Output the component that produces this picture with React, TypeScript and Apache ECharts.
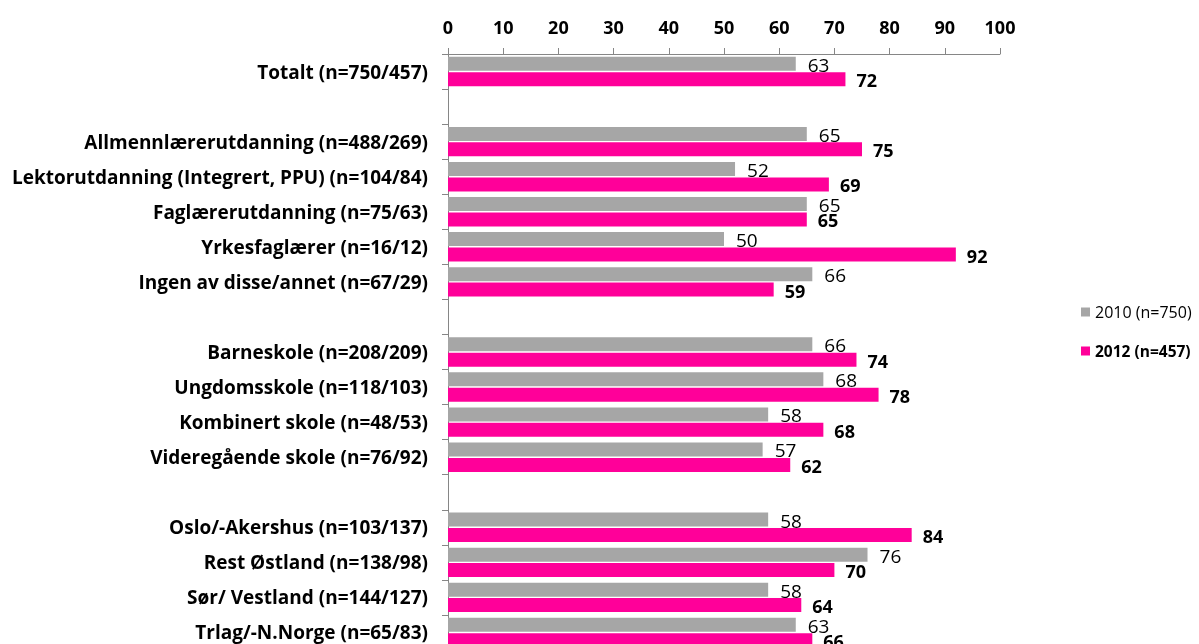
import React, { useEffect, useRef } from "react";
import * as echarts from "echarts";

const categories = [
  "Totalt (n=750/457)",
  "",
  "Allmennlærerutdanning (n=488/269)",
  "Lektorutdanning (Integrert, PPU) (n=104/84)",
  "Faglærerutdanning (n=75/63)",
  "Yrkesfaglærer (n=16/12)",
  "Ingen av disse/annet (n=67/29)",
  "",
  "Barneskole (n=208/209)",
  "Ungdomsskole (n=118/103)",
  "Kombinert skole (n=48/53)",
  "Videregående skole (n=76/92)",
  "",
  "Oslo/-Akershus (n=103/137)",
  "Rest Østland (n=138/98)",
  "Sør/ Vestland (n=144/127)",
  "Trlag/-N.Norge (n=65/83)",
];

const values2010 = [63, null, 65, 52, 65, 50, 66, null, 66, 68, 58, 57, null, 58, 76, 58, 63];
const values2012 = [72, null, 75, 69, 65, 92, 59, null, 74, 78, 68, 62, null, 84, 70, 64, 66];

const seriesNames = ["2010 (n=750)", "2012 (n=457)"];
const xTicks = { min: 0, max: 100, interval: 10 };

const FONT = "Open Sans";

export default function App() {
  const ref = useRef<HTMLDivElement>(null);
  useEffect(() => {
    document.body.style.margin = "0";
    document.body.style.overflow = "hidden";
    const chart = echarts.init(ref.current!, null, { renderer: "svg" });
    chart.setOption({
      animation: false,
      textStyle: { fontFamily: FONT },
      grid: { left: 448, top: 54, width: 552, height: 596 },
      legend: {
        orient: "vertical",
        left: 1076,
        top: 299,
        itemWidth: 9,
        itemHeight: 9,
        itemGap: 23,
        icon: "rect",
        textStyle: { fontFamily: FONT, fontSize: 16, color: "#000" },
        data: [
          { name: seriesNames[0] },
          { name: seriesNames[1], textStyle: { fontWeight: "bold", fontSize: 15.5 } },
        ],
      },
      xAxis: {
        type: "value",
        position: "top",
        min: xTicks.min,
        max: xTicks.max,
        interval: xTicks.interval,
        axisLine: { show: true, lineStyle: { color: "#868686" } },
        axisTick: { show: true, length: 6, lineStyle: { color: "#868686" } },
        splitLine: { show: false },
        axisLabel: {
          fontFamily: FONT,
          fontSize: 18,
          fontWeight: "bold",
          color: "#000",
          margin: 18,
        },
      },
      yAxis: {
        type: "category",
        inverse: true,
        data: categories,
        axisLine: { show: true, lineStyle: { color: "#868686" } },
        axisTick: { show: true, length: 6, lineStyle: { color: "#868686" } },
        axisLabel: {
          fontFamily: FONT,
          fontSize: 19,
          fontWeight: "bold",
          color: "#000",
          margin: 20,
        },
      },
      series: [
        {
          name: seriesNames[0],
          type: "bar",
          data: values2010,
          barWidth: 14,
          barGap: "10%",
          itemStyle: { color: "#A6A6A6" },
          label: {
            show: true,
            position: "right",
            distance: 12,
            offset: [0, 1],
            fontFamily: FONT,
            fontSize: 19,
            color: "#000",
          },
        },
        {
          name: seriesNames[1],
          type: "bar",
          data: values2012,
          barWidth: 14,
          itemStyle: { color: "#FF0099" },
          label: {
            show: true,
            position: "right",
            distance: 11,
            offset: [0, 1],
            fontFamily: FONT,
            fontSize: 18,
            fontWeight: "bold",
            color: "#000",
          },
        },
      ],
    });
    return () => chart.dispose();
  }, []);
  return (
    <div style={{ position: "fixed", left: 0, top: 0, width: 1199, height: 644, overflow: "hidden" }}>
      <div ref={ref} style={{ width: 1199, height: 660 }} />
    </div>
  );
}
